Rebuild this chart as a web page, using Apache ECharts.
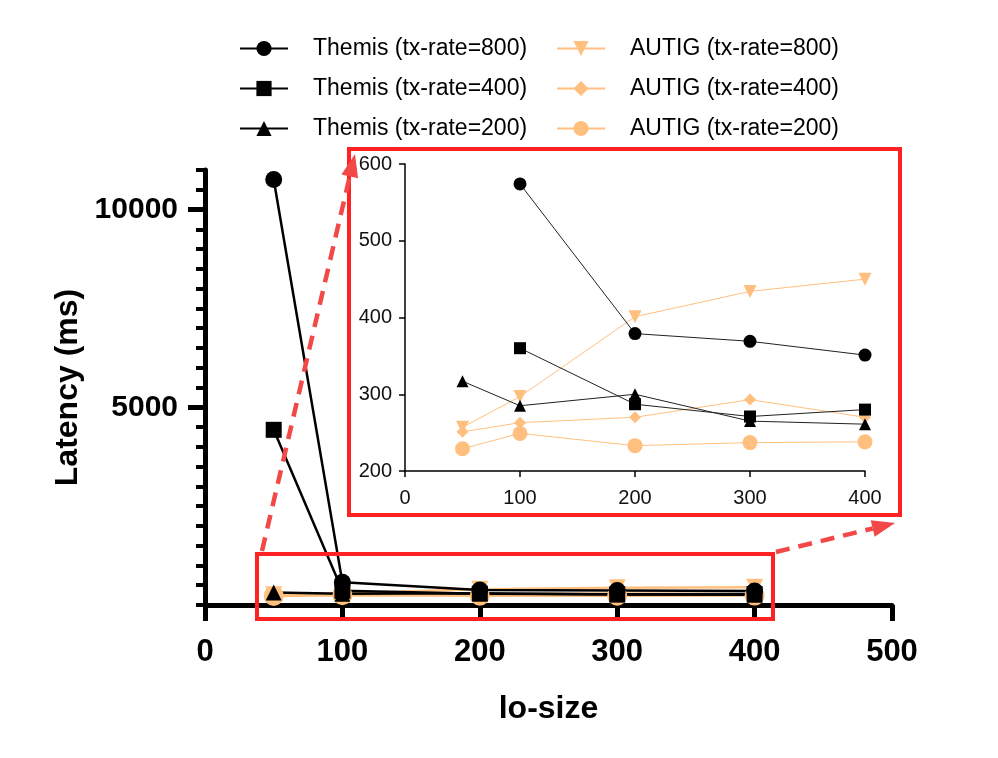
<!DOCTYPE html>
<html>
<head>
<meta charset="utf-8">
<title>Latency vs lo-size</title>
<script src="https://cdn.jsdelivr.net/npm/echarts@6/dist/echarts.min.js"></script>
<style>
html, body { margin: 0; padding: 0; background: #fff; }
#main { width: 998px; height: 758px; }
</style>
</head>
<body>
<div id="main"></div>
<script>
// lo-size values on the x axis
const loSizes = [50, 100, 200, 300, 400];

// latency (ms)
const themis800 = [10760, 574, 379, 369, 351];
const themis400 = [4430, 360, 287, 271, 280];
const themis200 = [317, 285, 300, 265, 261];
const autig800 = [257, 297, 401, 434, 450];
const autig400 = [251, 263, 270, 293, 270];
const autig200 = [229, 249, 233, 237, 238];

// tick labels
const mainXTicks = [0, 100, 200, 300, 400, 500];
const mainYLabels = [5000, 10000];
const zoomXTicks = [0, 100, 200, 300, 400];
const zoomYTicks = [200, 300, 400, 500, 600];

const FONT = "'Liberation Sans', Arial, Helvetica, sans-serif";
const BLACK = "#000";
const ORANGE = "#FFC07F";
const RED = "#FF2222";
const ARROW = "#F24848";

const pairs = (ys, limit) =>
	loSizes.map((x, i) => [x, limit && ys[i] > limit ? null : ys[i]]);

const seriesDefs = [
	{ name: "AUTIG (tx-rate=800)", data: autig800, color: ORANGE, symbol: "triangle", rotate: 180, size: 17 },
	{ name: "AUTIG (tx-rate=400)", data: autig400, color: ORANGE, symbol: "diamond", size: 16 },
	{ name: "AUTIG (tx-rate=200)", data: autig200, color: ORANGE, symbol: "circle", size: 20 },
	{ name: "Themis (tx-rate=800)", data: themis800, color: BLACK, symbol: "circle", size: 17 },
	{ name: "Themis (tx-rate=400)", data: themis400, color: BLACK, symbol: "rect", size: 16 },
	{ name: "Themis (tx-rate=200)", data: themis200, color: BLACK, symbol: "triangle", size: 16 }
];

const series = [];
seriesDefs.forEach((d) => {
	series.push({
		name: d.name,
		type: "line",
		xAxisIndex: 0,
		yAxisIndex: 0,
		data: pairs(d.data),
		symbol: d.symbol,
		symbolSize: d.size,
		symbolRotate: d.rotate || 0,
		color: d.color,
		lineStyle: { width: 2.5, color: d.color },
		itemStyle: { color: d.color, opacity: 1 },
		animation: false
	});
});
seriesDefs.forEach((d) => {
	series.push({
		name: d.name,
		type: "line",
		xAxisIndex: 1,
		yAxisIndex: 2,
		data: pairs(d.data, 600),
		symbol: d.symbol,
		symbolSize: Math.round(d.size * 0.75),
		symbolRotate: d.rotate || 0,
		color: d.color,
		lineStyle: { width: 1, color: d.color === BLACK ? "#222" : d.color },
		itemStyle: { color: d.color, opacity: 1 },
		animation: false
	});
});

const legendCommon = {
	orient: "vertical",
	top: 32,
	itemWidth: 48,
	itemHeight: 19,
	itemGap: 17,
	textStyle: { fontFamily: FONT, fontSize: 23, color: "#000", padding: [0, 0, 0, 20] }
};

// dashed arrow from (x1,y1) to tip (x2,y2)
const arrow = (x1, y1, x2, y2) => {
	const dx = x2 - x1, dy = y2 - y1;
	const len = Math.sqrt(dx * dx + dy * dy);
	const ux = dx / len, uy = dy / len;
	const head = 23, half = 8.5;
	const bx = x2 - ux * head, by = y2 - uy * head;
	return [
		{
			type: "line",
			z: 100,
			shape: { x1: x1, y1: y1, x2: bx, y2: by },
			style: { stroke: ARROW, lineWidth: 4.5, lineDash: [14, 9] }
		},
		{
			type: "polygon",
			z: 100,
			shape: { points: [[x2, y2], [bx - uy * half, by + ux * half], [bx + uy * half, by - ux * half]] },
			style: { fill: ARROW }
		}
	];
};

const option = {
	backgroundColor: "#fff",
	animation: false,
	legend: [
		Object.assign({}, legendCommon, {
			left: 234,
			data: ["Themis (tx-rate=800)", "Themis (tx-rate=400)", "Themis (tx-rate=200)"]
		}),
		Object.assign({}, legendCommon, {
			left: 551,
			data: ["AUTIG (tx-rate=800)", "AUTIG (tx-rate=400)", "AUTIG (tx-rate=200)"]
		})
	],
	grid: [
		{ left: 205, right: 106, top: 170, bottom: 153 },
		{ left: 405, right: 133, top: 164, bottom: 287 }
	],
	xAxis: [
		{
			type: "value",
			gridIndex: 0,
			min: mainXTicks[0],
			max: mainXTicks[mainXTicks.length - 1],
			interval: 100,
			name: "lo-size",
			nameLocation: "middle",
			nameGap: 88,
			nameTextStyle: { fontFamily: FONT, fontSize: 32, fontWeight: "bold", color: "#000" },
			axisLine: { onZero: false, lineStyle: { color: "#000", width: 5 } },
			axisTick: { length: 16, lineStyle: { color: "#000", width: 5 } },
			axisLabel: { margin: 32, fontFamily: FONT, fontSize: 31, fontWeight: "bold", color: "#000" },
			splitLine: { show: false }
		},
		{
			type: "value",
			gridIndex: 1,
			min: zoomXTicks[0],
			max: zoomXTicks[zoomXTicks.length - 1],
			interval: 100,
			axisLine: { onZero: false, lineStyle: { color: "#000", width: 1.5 } },
			axisTick: { length: 6, lineStyle: { color: "#000", width: 1.5 } },
			axisLabel: { margin: 17, fontFamily: FONT, fontSize: 20, color: "#111" },
			splitLine: { show: false }
		}
	],
	yAxis: [
		{
			type: "value",
			gridIndex: 0,
			min: 0,
			max: 11000,
			interval: 500,
			name: "Latency (ms)",
			nameLocation: "middle",
			nameGap: 112,
			nameTextStyle: { fontFamily: FONT, fontSize: 32, fontWeight: "bold", color: "#000" },
			axisLine: { show: true, lineStyle: { color: "#000", width: 5 } },
			axisTick: { show: true, length: 9, lineStyle: { color: "#000", width: 4 } },
			axisLabel: {
				margin: 27,
				customValues: mainYLabels,
				formatter: (v) => String(v),
				fontFamily: FONT, fontSize: 30, fontWeight: "bold", color: "#000"
			},
			splitLine: { show: false }
		},
		{
			type: "value",
			gridIndex: 0,
			position: "left",
			min: 0,
			max: 11000,
			axisLine: { show: false },
			axisTick: { show: true, length: 17, customValues: mainYLabels, lineStyle: { color: "#000", width: 5 } },
			axisLabel: { show: false },
			splitLine: { show: false }
		},
		{
			type: "value",
			gridIndex: 1,
			min: zoomYTicks[0],
			max: zoomYTicks[zoomYTicks.length - 1],
			interval: 100,
			axisLine: { show: true, lineStyle: { color: "#000", width: 1.5 } },
			axisTick: { show: true, length: 6, lineStyle: { color: "#000", width: 1.5 } },
			axisLabel: { margin: 13, fontFamily: FONT, fontSize: 20, color: "#111" },
			splitLine: { show: false }
		}
	],
	graphic: [
		{
			type: "rect",
			z: 100,
			shape: { x: 257, y: 554, width: 516, height: 65 },
			style: { fill: "none", stroke: RED, lineWidth: 4 }
		},
		{
			type: "rect",
			z: 100,
			shape: { x: 349, y: 149, width: 551, height: 366 },
			style: { fill: "none", stroke: RED, lineWidth: 4 }
		}
	].concat(arrow(262, 551, 355, 154), arrow(776, 552, 895, 523)),
	series: series
};

const myChart = echarts.init(document.getElementById("main"), null, { renderer: "canvas" });
myChart.setOption(option);
</script>
</body>
</html>
